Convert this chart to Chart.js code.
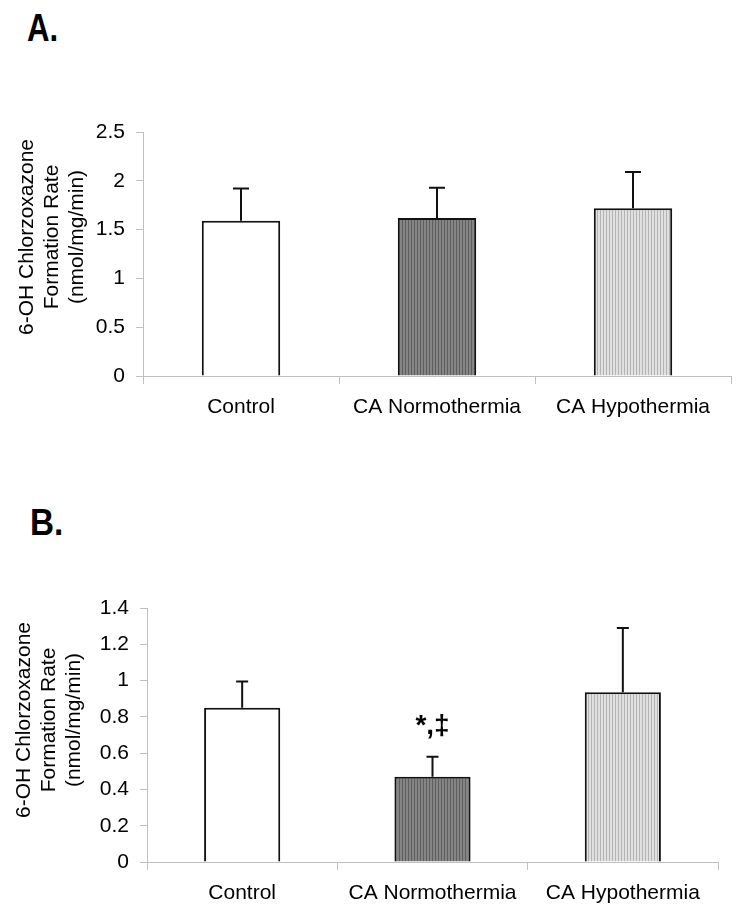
<!DOCTYPE html>
<html>
<head>
<meta charset="utf-8">
<script src="https://cdn.jsdelivr.net/npm/chart.js@4.4.0/dist/chart.umd.min.js"></script>
<style>
  body { margin: 0; background: #fff; width: 741px; height: 918px; position: relative; overflow: hidden; font-family: "Liberation Sans", Arial, sans-serif; }
  .panel { position: absolute; font-weight: bold; line-height: 1; transform-origin: left top; color: #000; }
  .wrap { position: absolute; left: 0; width: 741px; }
</style>
</head>
<body>
<div class="panel" style="left:27px;top:8px;font-size:39px;transform:scaleX(0.8)">A.</div>
<div class="panel" style="left:30px;top:504px;font-size:37px;transform:scaleX(0.9)">B.</div>
<div class="wrap" style="top:100px;height:330px"><canvas id="chartA"></canvas></div>
<div class="wrap" style="top:570px;height:348px"><canvas id="chartB"></canvas></div>
<script>
const groups = ["Control", "CA Normothermia", "CA Hypothermia"];
const yTitle = ["6-OH Chlorzoxazone", "Formation Rate", "(nmol/mg/min)"];
const rateA = [1.59, 1.62, 1.72];
const errA = [0.33, 0.31, 0.37];
const rateB = [0.85, 0.47, 0.935];
const errB = [0.145, 0.11, 0.355];
const marksB = ["", "*,\u2021", ""];

function stripes(cols) {
  const c = document.createElement("canvas");
  c.width = cols.length;
  c.height = 4;
  const g = c.getContext("2d");
  cols.forEach((col, i) => {
    g.fillStyle = col;
    g.fillRect(i, 0, 1, 4);
  });
  return g.createPattern(c, "repeat");
}

const patNormo = stripes(["#5e5e5e", "#858585", "#858585"]);
const patHypo = stripes(["#b4b4b4", "#e0e0e0", "#e0e0e0"]);

// error bars, significance marks and the y title
const extras = {
  id: "extras",
  afterDatasetsDraw(chart, args, opts) {
    const ctx = chart.ctx;
    const y = chart.scales.y;
    const meta = chart.getDatasetMeta(0);
    ctx.save();
    ctx.strokeStyle = "#111";
    ctx.lineWidth = 2;
    meta.data.forEach((bar, i) => {
      const top = y.getPixelForValue(opts.values[i] + opts.errors[i]);
      ctx.beginPath();
      ctx.moveTo(bar.x, bar.y);
      ctx.lineTo(bar.x, top);
      ctx.moveTo(bar.x - opts.cap / 2, top);
      ctx.lineTo(bar.x + opts.cap / 2, top);
      ctx.stroke();
      if (opts.marks && opts.marks[i]) {
        ctx.fillStyle = "#000";
        ctx.font = "bold 28px 'Liberation Sans', Arial";
        ctx.textAlign = "center";
        ctx.textBaseline = "middle";
        ctx.fillText(opts.marks[i], bar.x, top - 30);
      }
    });
    ctx.fillStyle = "#000";
    ctx.font = "21px 'Liberation Sans', Arial";
    ctx.textAlign = "center";
    ctx.textBaseline = "middle";
    yTitle.forEach((line, i) => {
      ctx.save();
      ctx.translate(opts.titleX + i * 25, opts.titleY);
      ctx.rotate(-Math.PI / 2);
      ctx.fillText(line, 0, 0);
      ctx.restore();
    });
    ctx.restore();
  }
};

function makeChart(id, values, errors, cfg) {
  return new Chart(document.getElementById(id), {
    type: "bar",
    data: {
      labels: groups,
      datasets: [{
        data: values,
        backgroundColor: ["#ffffff", patNormo, patHypo],
        borderColor: "#111",
        borderWidth: 2,
        barPercentage: 0.4,
        categoryPercentage: 1
      }]
    },
    options: {
      responsive: true,
      maintainAspectRatio: false,
      animation: false,
      layout: { padding: { left: 0, right: cfg.padRight, top: cfg.padTop, bottom: 0 } },
      plugins: {
        legend: { display: false },
        tooltip: { enabled: false },
        extras: {
          values: values,
          errors: errors,
          cap: cfg.cap,
          marks: cfg.marks,
          titleX: cfg.titleX,
          titleY: cfg.titleY
        }
      },
      scales: {
        x: {
          offset: true,
          grid: { offset: true, drawOnChartArea: false, drawTicks: true, tickLength: 8, color: "#c0c0c0" },
          border: { color: "#c0c0c0", width: 1 },
          ticks: { color: "#000", padding: 11, font: { size: 21, family: "'Liberation Sans', Arial" } },
          afterFit: (s) => { s.height = cfg.xHeight; }
        },
        y: {
          min: 0,
          max: cfg.yMax,
          grid: { drawOnChartArea: false, tickLength: 7, color: "#c0c0c0" },
          border: { color: "#c0c0c0", width: 1 },
          ticks: {
            stepSize: cfg.step,
            color: "#000",
            padding: 11,
            font: { size: 21, family: "'Liberation Sans', Arial" },
            callback: (v) => String(Number(v.toFixed(1)))
          },
          afterFit: (s) => { s.width = cfg.yWidth; }
        }
      }
    },
    plugins: [extras]
  });
}

makeChart("chartA", rateA, errA, {
  yMax: 2.5, step: 0.5, padTop: 32, padRight: 10, xHeight: 54, yWidth: 143,
  cap: 16, marks: null, titleX: 27, titleY: 137
});
makeChart("chartB", rateB, errB, {
  yMax: 1.4, step: 0.2, padTop: 38, padRight: 23, xHeight: 56, yWidth: 147,
  cap: 12, marks: marksB, titleX: 24, titleY: 150
});
</script>
</body>
</html>
